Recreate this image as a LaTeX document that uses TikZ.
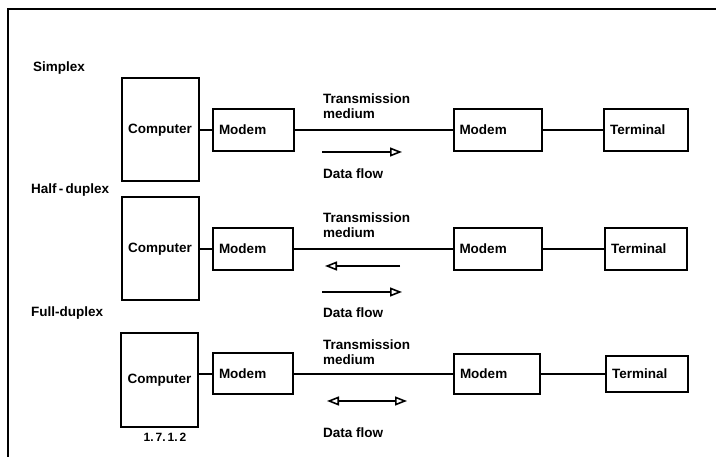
\documentclass[tikz,border=0pt]{standalone}
\usepackage{fontspec}
\setmainfont{Liberation Sans}
\usetikzlibrary{arrows.meta}
\tikzset{
  x=1pt,y=-1pt,
  fnt/.style={font=\fontsize{13.5}{15}\selectfont\bfseries},
  txt/.style={fnt, inner sep=0pt},
  box/.style={draw, line width=2pt, fnt, align=left, inner ysep=0pt, inner xsep=6pt, minimum height=42pt},
  compbox/.style={draw, line width=2pt, fnt, inner xsep=2pt, minimum width=77pt, minimum height=103pt},
  wire/.style={line width=1.8pt},
  flow/.style={line width=1.8pt, -{Triangle[open,length=12pt,width=9pt,line width=1.6pt]}},
  flowboth/.style={line width=1.8pt, {Triangle[open,length=12pt,width=9pt,line width=1.6pt]}-{Triangle[open,length=12pt,width=9pt,line width=1.6pt]}},
}
\begin{document}
\begin{tikzpicture}
\useasboundingbox (0,0) rectangle (716,457);
% frame
\coordinate (fbl) at (8,457);
\coordinate (ftl) at (8,9);
\coordinate (ftr) at (716,9);
\draw[line width=2pt] (fbl) -- (ftl) -- (ftr);

% ---------- Simplex ----------
\node[txt, anchor=west] (lsimp) at (33,68) {Simplex};
\node[compbox] (c1) at (160,130) {Computer};
\node[box, text width=69pt] (ma1) at (253.5,130) {Modem};
\node[box, text width=76pt] (mb1) at (497.5,130) {Modem};
\node[box, text width=72pt] (t1) at (646,130) {Terminal};
\draw[wire] (ma1.west) -- (ma1.west -| c1.east);
\draw[wire] (ma1.east) -- (mb1.west);
\draw[wire] (mb1.east) -- (t1.west);
\node[txt, align=left, anchor=west] (tm1) at (323,106) {Transmission\\medium};
\coordinate (a1s) at (322,152);
\coordinate (a1e) at (402,152);
\draw[flow] (a1s) -- (a1e);
\node[txt, anchor=west] (df1) at (323,174) {Data flow};

% ---------- Half-duplex ----------
\node[txt, anchor=west] (lhalf) at (31,190) {Half\,-\,duplex};
\node[compbox] (c2) at (160,249) {Computer};
\node[box, text width=68pt] (ma2) at (253,249) {Modem};
\node[box, text width=76pt] (mb2) at (497.5,249) {Modem};
\node[box, text width=70pt] (t2) at (646,249) {Terminal};
\draw[wire] (ma2.west) -- (ma2.west -| c2.east);
\draw[wire] (ma2.east) -- (mb2.west);
\draw[wire] (mb2.east) -- (t2.west);
\node[txt, align=left, anchor=west] (tm2) at (323,225.5) {Transmission\\medium};
\coordinate (a2s) at (400,266);
\coordinate (a2e) at (325,266);
\draw[flow] (a2s) -- (a2e);
\coordinate (a3s) at (322,292);
\coordinate (a3e) at (402,292);
\draw[flow] (a3s) -- (a3e);
\node[txt, anchor=west] (df2) at (323,313) {Data flow};

% ---------- Full-duplex ----------
\node[txt, anchor=west] (lfull) at (31,313) {Full-duplex};
\node[compbox, minimum height=94pt] (c3) at (159.5,380) {Computer};
\node[box, text width=68pt, minimum height=41pt] (ma3) at (253,374) {Modem};
\node[box, text width=74pt, minimum height=40pt] (mb3) at (497,374) {Modem};
\node[box, text width=70pt, minimum height=36pt] (t3) at (647,374) {Terminal};
\draw[wire] (ma3.west) -- (ma3.west -| c3.east);
\draw[wire] (ma3.east) -- (mb3.west);
\draw[wire] (mb3.east) -- (t3.west);
\node[txt, align=left, anchor=west] (tm3) at (323,352) {Transmission\\medium};
\coordinate (a4s) at (327,401);
\coordinate (a4e) at (407,401);
\draw[flowboth] (a4s) -- (a4e);
\node[txt, anchor=west] (df3) at (323,433) {Data flow};
\node[font=\fontsize{12}{13}\selectfont\bfseries, inner sep=0pt] (fig) at (165,437) {1.\,7.\,1.\,2};
\end{tikzpicture}
\end{document}
